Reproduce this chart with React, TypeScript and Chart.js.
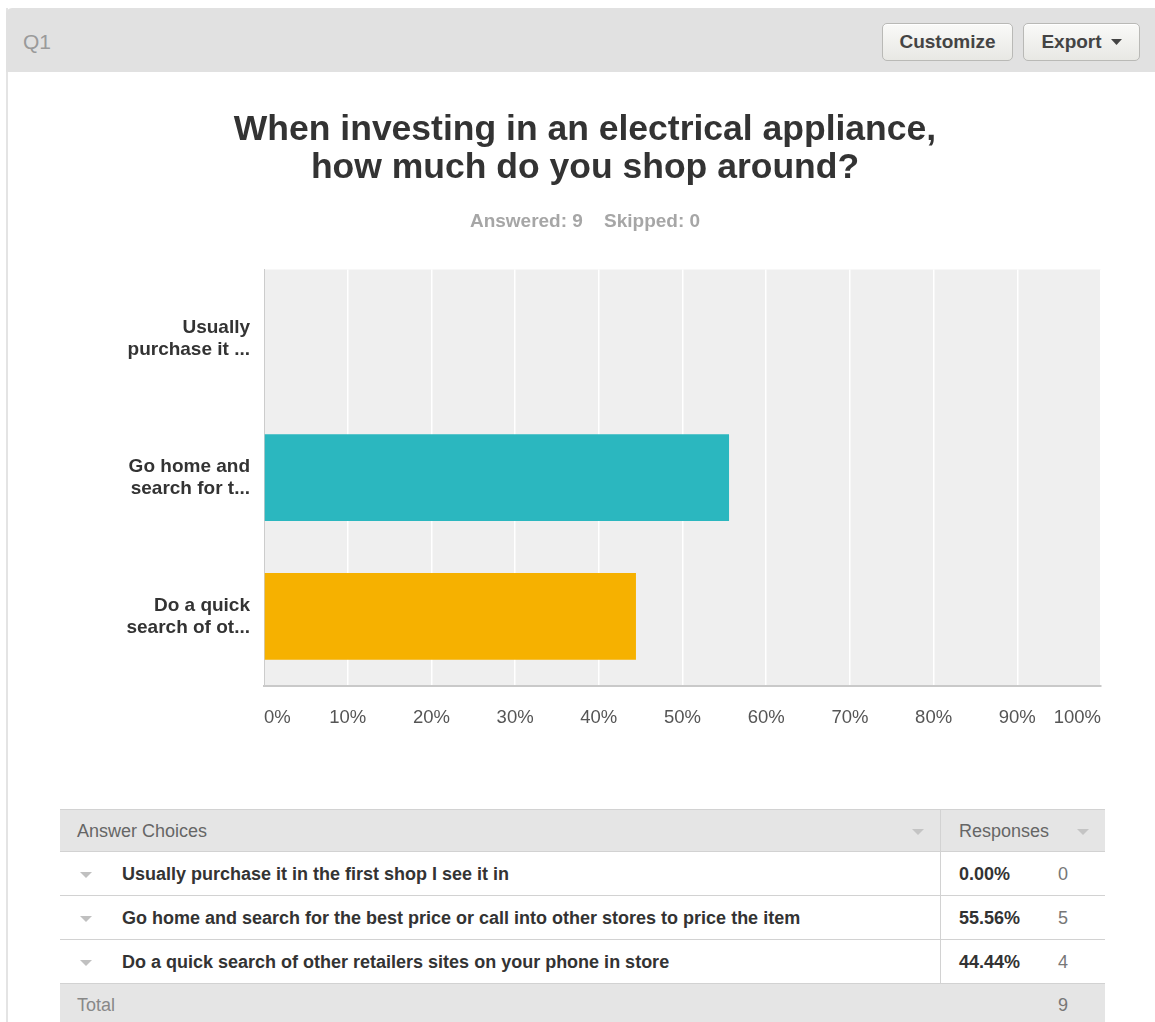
import React, { useEffect, useRef } from "react";
import { Chart, registerables } from "chart.js";

Chart.register(...registerables);

// ---------- data ----------
const questionId = "Q1";
const titleLines = ["When investing in an electrical appliance,", "how much do you shop around?"];
const answeredCount = 9;
const skippedCount = 0;
const shortLabels = [
  ["Usually", "purchase it ..."],
  ["Go home and", "search for t..."],
  ["Do a quick", "search of ot..."],
];
const fullLabels = [
  "Usually purchase it in the first shop I see it in",
  "Go home and search for the best price or call into other stores to price the item",
  "Do a quick search of other retailers sites on your phone in store",
];
const percentValues = [0, 55.56, 44.44];
const responseCounts = [0, 5, 4];
const barColors = ["#35b36c", "#2bb7bf", "#f6b100"];
const axisMin = 0;
const axisMax = 100;
const axisStep = 10;

const FONT = "'Liberation Sans', Arial, Helvetica, sans-serif";

const plotBackground = {
  id: "plotBackground",
  beforeDraw(chart: any) {
    const { ctx, chartArea: a } = chart;
    ctx.save();
    ctx.fillStyle = "#efefef";
    ctx.fillRect(a.left, a.top, a.right - a.left, a.bottom - a.top);
    ctx.restore();
  },
};

function Triangle({ w = 12, h = 6, color = "#bbb" }: { w?: number; h?: number; color?: string }) {
  return (
    <svg width={w} height={h} style={{ display: "block" }}>
      <polygon points={`0,0 ${w},0 ${w / 2},${h}`} fill={color} />
    </svg>
  );
}

function ChartCanvas() {
  const ref = useRef<HTMLCanvasElement | null>(null);
  useEffect(() => {
    if (!ref.current) return;
    const chart = new Chart(ref.current, {
      type: "bar",
      data: {
        labels: shortLabels as any,
        datasets: [
          {
            data: percentValues,
            backgroundColor: barColors,
            borderWidth: 0,
            barPercentage: 0.625,
            categoryPercentage: 1,
          },
        ],
      },
      options: {
        indexAxis: "y",
        animation: false,
        responsive: false,
        layout: { padding: { left: 61, right: 54, top: 0, bottom: 10 } },
        plugins: {
          legend: { display: false },
          tooltip: { enabled: false },
          title: {
            display: true,
            text: titleLines,
            color: "#333",
            font: { family: FONT, size: 35.5, weight: "bold", lineHeight: 1.08 },
            padding: { top: 21, bottom: 23 },
          },
          subtitle: {
            display: true,
            text: `Answered: ${answeredCount}    Skipped: ${skippedCount}`,
            color: "#a6a6a6",
            font: { family: FONT, size: 19, weight: "bold", lineHeight: 1.2 },
            padding: { top: 0, bottom: 36 },
          },
        },
        scales: {
          x: {
            min: axisMin,
            max: axisMax,
            ticks: {
              stepSize: axisStep,
              callback: (v: any) => `${v}%`,
              align: "inner",
              padding: 21,
              color: "#555",
              font: { family: FONT, size: 18.5 },
              maxRotation: 0,
              autoSkip: false,
            },
            grid: { color: "#ffffff", lineWidth: 1.5, drawTicks: false },
            border: { display: true, color: "#c9c9c9", width: 2 },
          },
          y: {
            ticks: {
              padding: 14,
              color: "#333",
              font: { family: FONT, size: 19, weight: "bold", lineHeight: 1.16 },
              autoSkip: false,
            },
            grid: { display: false, drawTicks: false },
            border: { display: true, color: "#cccccc", width: 1 },
            afterFit: (s: any) => {
              s.width = 195;
            },
          },
        },
      } as any,
      plugins: [plotBackground],
    });
    return () => chart.destroy();
  }, []);
  return <canvas ref={ref} width={1147} height={670} style={{ position: "absolute", left: 8, top: 90 }} />;
}

const rowTops = [852, 896, 940];

export default function App() {
  const total = responseCounts.reduce((a, b) => a + b, 0);
  const btn: React.CSSProperties = {
    position: "absolute",
    top: 23,
    height: 38,
    boxSizing: "border-box",
    border: "1px solid #b9b9b6",
    borderRadius: 5,
    background: "linear-gradient(#fafaf8, #e8e8e4)",
    boxShadow: "inset 0 1px 0 #fff",
    fontFamily: FONT,
    fontWeight: "bold",
    fontSize: 19,
    color: "#444",
    display: "flex",
    alignItems: "center",
    justifyContent: "center",
  };
  return (
    <div style={{ position: "relative", width: 1155, height: 1022, overflow: "hidden", background: "#fff", fontFamily: FONT }}>
      <style>{`body{margin:0}`}</style>
      {/* panel left border */}
      <div style={{ position: "absolute", left: 6, top: 8, width: 2, height: 1100, background: "#e4e4e4" }} />
      {/* header */}
      <div
        style={{
          position: "absolute",
          left: 6,
          top: 8,
          width: 1160,
          height: 64,
          background: "#e1e1e1",
          borderTopLeftRadius: 6,
        }}
      />
      <div style={{ position: "absolute", left: 23, top: 28, fontSize: 21, lineHeight: "28px", color: "#9a9a9a" }}>{questionId}</div>
      <div style={{ ...btn, left: 882, width: 131 }}>Customize</div>
      <div style={{ ...btn, left: 1023, width: 117 }}>
        Export
        <span style={{ marginLeft: 9, display: "inline-block" }}>
          <Triangle w={11} h={6} color="#444" />
        </span>
      </div>

      <ChartCanvas />

      {/* table */}
      <div
        style={{
          position: "absolute",
          left: 60,
          top: 809,
          width: 1045,
          height: 43,
          background: "#e5e5e5",
          borderTop: "1px solid #d2d2d2",
          borderBottom: "1px solid #d2d2d2",
          boxSizing: "border-box",
          fontSize: 18,
          color: "#666",
        }}
      >
        <div style={{ position: "absolute", left: 17, top: 1, lineHeight: "41px" }}>Answer Choices</div>
        <div style={{ position: "absolute", left: 852, top: 19 }}>
          <Triangle w={12} h={6} color="#c4c4c4" />
        </div>
        <div style={{ position: "absolute", left: 880, top: -1, width: 1, height: 43, background: "#d2d2d2" }} />
        <div style={{ position: "absolute", left: 899, top: 1, lineHeight: "41px" }}>Responses</div>
        <div style={{ position: "absolute", left: 1017, top: 19 }}>
          <Triangle w={12} h={6} color="#c4c4c4" />
        </div>
      </div>
      {fullLabels.map((label, i) => (
        <div
          key={i}
          style={{
            position: "absolute",
            left: 60,
            top: rowTops[i],
            width: 1045,
            height: 44,
            background: "#fff",
            borderBottom: "1px solid #d2d2d2",
            boxSizing: "border-box",
            fontSize: 18,
          }}
        >
          <div style={{ position: "absolute", left: 20, top: 20 }}>
            <Triangle w={12} h={6} color="#c0c0c0" />
          </div>
          <div style={{ position: "absolute", left: 62, top: 1, lineHeight: "43px", fontWeight: "bold", color: "#333" }}>{label}</div>
          <div style={{ position: "absolute", left: 880, top: 0, width: 1, height: 44, background: "#d2d2d2" }} />
          <div style={{ position: "absolute", left: 899, top: 1, lineHeight: "43px", fontWeight: "bold", color: "#333" }}>
            {percentValues[i].toFixed(2)}%
          </div>
          <div style={{ position: "absolute", left: 998, top: 1, lineHeight: "43px", color: "#777" }}>{responseCounts[i]}</div>
        </div>
      ))}
      <div
        style={{
          position: "absolute",
          left: 60,
          top: 984,
          width: 1045,
          height: 44,
          background: "#e5e5e5",
          fontSize: 18,
          color: "#888",
        }}
      >
        <div style={{ position: "absolute", left: 17, top: 0, lineHeight: "43px" }}>Total</div>
        <div style={{ position: "absolute", left: 998, top: 0, lineHeight: "43px", color: "#777" }}>{total}</div>
      </div>
    </div>
  );
}
